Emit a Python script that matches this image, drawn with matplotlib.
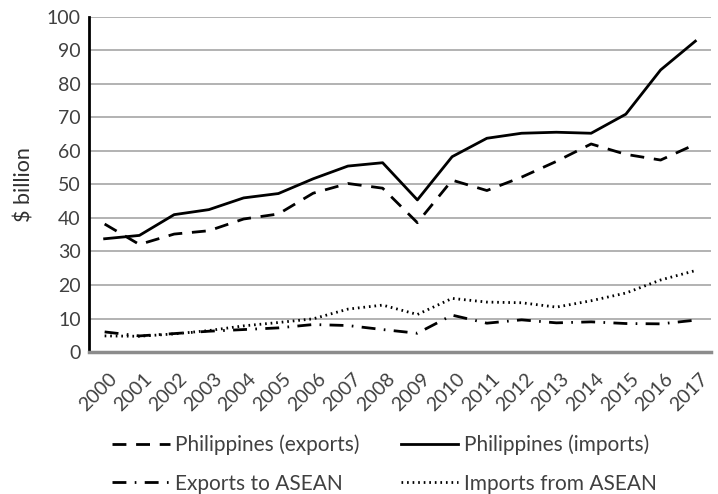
import matplotlib
matplotlib.use('Agg')
import matplotlib.pyplot as plt
from matplotlib.transforms import ScaledTranslation

plt.rcParams['font.family'] = ['Lato', 'DejaVu Sans']

years = [str(y) for y in range(2000, 2018)]
ph_exports = [38.2, 32.1, 35.2, 36.2, 39.7, 41.2, 47.4, 50.3, 48.9, 38.6,
              51.3, 48.2, 52.2, 56.9, 62.1, 59.0, 57.3, 62.0]
ph_imports = [33.8, 34.8, 41.0, 42.5, 46.0, 47.3, 51.7, 55.5, 56.5, 45.4,
              58.3, 63.8, 65.3, 65.6, 65.3, 71.0, 84.2, 92.8]
exp_asean = [6.0, 4.8, 5.5, 6.2, 6.7, 7.2, 8.2, 7.9, 6.7, 5.6,
             11.0, 8.6, 9.6, 8.7, 9.0, 8.5, 8.4, 9.5]
imp_asean = [4.8, 4.7, 5.4, 6.4, 7.8, 8.8, 9.9, 12.8, 14.0, 11.2,
             16.0, 14.9, 14.7, 13.4, 15.3, 17.6, 21.5, 24.3]

TXT = '#404040'

fig = plt.figure(figsize=(7.18, 4.94), dpi=100)
ax = fig.add_axes([89 / 718, 1 - 352 / 494, 622 / 718, 335 / 494])

x = list(range(len(years)))
l1, = ax.plot(x, ph_exports, color='black', lw=2.0, dashes=(5, 3.5), label='Philippines (exports)')
l2, = ax.plot(x, ph_imports, color='black', lw=2.0, label='Philippines (imports)')
l3, = ax.plot(x, exp_asean, color='black', lw=2.0, dashes=(5, 3, 0.6, 3), label='Exports to ASEAN')
l4, = ax.plot(x, imp_asean, color='black', lw=2.0, dashes=(0.6, 1.4), label='Imports from ASEAN')

ax.set_xlim(-0.45, len(years) - 0.55)
ax.set_ylim(0, 100)
ax.set_yticks(range(0, 101, 10))
ax.set_xticks(x)
ax.set_xticklabels(years, rotation=45, ha='right', rotation_mode='anchor')
ax.tick_params(axis='both', length=0, labelsize=14, colors=TXT, pad=6)
ax.tick_params(axis='x', pad=13)
# nudge x labels a little to the right like the original
for lab in ax.get_xticklabels():
    lab.set_transform(lab.get_transform() + ScaledTranslation(4 / 100, 0, fig.dpi_scale_trans))
ax.grid(axis='y', color='#a6a6a6', lw=1.2)
ax.set_axisbelow(True)
for s in ['top', 'right']:
    ax.spines[s].set_visible(False)
ax.spines['left'].set_color('black')
ax.spines['left'].set_linewidth(2)
ax.spines['bottom'].set_color('#8c8c8c')
ax.spines['bottom'].set_linewidth(2.5)
ax.set_ylabel('$ billion', fontsize=15.5, color='#303030', labelpad=9)

# legend fills column-first, so order handles to get rows: exports/imports, ASEAN exp/imp
leg = fig.legend([l1, l3, l2, l4], [l.get_label() for l in (l1, l3, l2, l4)],
                 loc='lower left', bbox_to_anchor=(102 / 718, -10 / 494), ncol=2, frameon=False,
                 fontsize=15, handlelength=2.75, handletextpad=0.25, columnspacing=2.0,
                 labelspacing=0.9, borderpad=0)
for t in leg.get_texts():
    t.set_color(TXT)

fig.savefig('out.png', dpi=100)
